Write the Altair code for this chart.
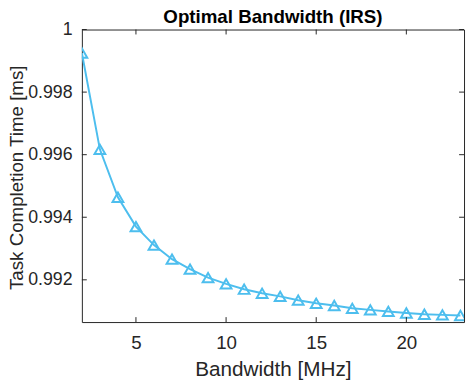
import altair as alt
import pandas as pd

bandwidth = list(range(2, 24))
completion = [0.99925, 0.99617, 0.99464, 0.99370, 0.99311, 0.99266, 0.99234, 0.99207,
              0.99187, 0.99170, 0.99157, 0.99147, 0.99135, 0.99125, 0.99118, 0.99109,
              0.99104, 0.99099, 0.99094, 0.99090, 0.99088, 0.99086]
x_ticks = [5, 10, 15, 20]
y_ticks = [0.992, 0.994, 0.996, 0.998, 1.0]
x_domain = [2, 23.2]
y_domain = [0.99065, 1.0]

W, H = 388, 297
color = "#4DBEEE"
axis_color = "#262626"

df = pd.DataFrame({"bw": bandwidth, "t": completion})
xt = pd.DataFrame({"v": x_ticks})
yt = pd.DataFrame({"v": y_ticks})

xs = alt.Scale(domain=x_domain, nice=False, zero=False)
ys = alt.Scale(domain=y_domain, nice=False, zero=False)

base = alt.Chart(df)

line = base.mark_line(color=color, strokeWidth=2, clip=True).encode(
    x=alt.X("bw:Q", scale=xs, title="Bandwidth [MHz]",
            axis=alt.Axis(values=x_ticks, format="d", titleY=54,
                          titleBaseline="alphabetic")),
    y=alt.Y("t:Q", scale=ys, title="Task Completion Time [ms]",
            axis=alt.Axis(values=y_ticks, titleX=-60, titleY=150, titleFontSize=19,
                          titleBaseline="alphabetic", labelFontSize=18,
                          labelExpr="datum.value == 1 ? '1' : format(datum.value, '.3f')")),
)
pts = base.mark_point(shape="triangle-up", filled=False, color=color, size=120,
                      strokeWidth=2, opacity=1, clip=True).encode(
    x=alt.X("bw:Q", scale=xs),
    y=alt.Y("t:Q", scale=ys),
)

tick_len = 5
xb = alt.Chart(xt).mark_rule(color=axis_color, strokeWidth=1).encode(
    x=alt.X("v:Q", scale=xs), y=alt.value(H), y2=alt.value(H - tick_len))
xtop = alt.Chart(xt).mark_rule(color=axis_color, strokeWidth=1).encode(
    x=alt.X("v:Q", scale=xs), y=alt.value(0), y2=alt.value(tick_len))
yl = alt.Chart(yt).mark_rule(color=axis_color, strokeWidth=1).encode(
    y=alt.Y("v:Q", scale=ys), x=alt.value(0), x2=alt.value(tick_len))
yr = alt.Chart(yt).mark_rule(color=axis_color, strokeWidth=1).encode(
    y=alt.Y("v:Q", scale=ys), x=alt.value(W), x2=alt.value(W - tick_len))

chart = alt.layer(line, pts, xb, xtop, yl, yr).properties(
    width=W, height=H,
    title=alt.TitleParams("Optimal Bandwidth (IRS)", fontSize=19, fontWeight="bold",
                          font="Liberation Sans", color="black", anchor="middle",
                          frame="group", offset=0, dy=6),
    autosize=alt.AutoSizeParams(type="none"),
    padding={"left": 75, "top": 19, "right": 2, "bottom": 58},
).configure_view(stroke=axis_color, strokeWidth=1).configure_axis(
    grid=False, ticks=False, domain=False,
    labelFont="Liberation Sans", labelFontSize=19, labelColor=axis_color,
    titleFont="Liberation Sans", titleFontSize=21, titleColor=axis_color,
    titleFontWeight="normal",
).configure_axisX(labelPadding=12).configure_axisY(labelPadding=10)

chart.save("out.html", embed_options={"renderer": "svg", "actions": False})
